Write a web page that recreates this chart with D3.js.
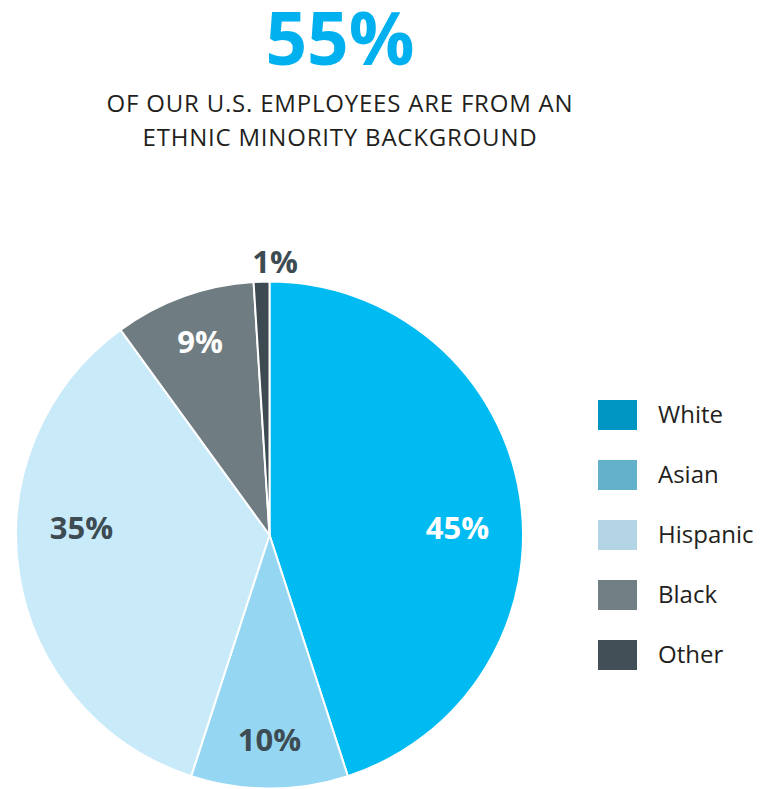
<!DOCTYPE html>
<html>
<head>
<meta charset="utf-8">
<script src="https://cdn.jsdelivr.net/npm/d3@7"></script>
<style>
  body { margin: 0; background: #fff; }
  svg { display: block; font-family: 'Open Sans', sans-serif; }
</style>
</head>
<body>
<div id="viz"><svg></svg></div>
<script>
const fullWidth = 764;
const fullHeight = 789;

// data
const categories = ['White', 'Asian', 'Hispanic', 'Black', 'Other'];
const values = [45, 10, 35, 9, 1];
const labels = ['45%', '10%', '35%', '9%', '1%'];
const headline = '55%';
const subtitle = ['OF OUR U.S. EMPLOYEES ARE FROM AN', 'ETHNIC MINORITY BACKGROUND'];

const sliceColors = ['#00bbf2', '#95d7f3', '#c9eaf9', '#6f7d83', '#3d4a52'];
const legendColors = ['#0096c4', '#64b1cc', '#b2d4e4', '#717f85', '#434f57'];
const labelColors = ['#ffffff', '#3d4b53', '#3d4b53', '#ffffff', '#3d4b53'];

const cx = 269.5, cy = 535, radius = 253.5;

const svg = d3.select('#viz svg')
  .attr('width', fullWidth)
  .attr('height', fullHeight);

// title
svg.append('text')
  .attr('x', 340)
  .attr('y', 65)
  .attr('text-anchor', 'middle')
  .attr('font-size', 73)
  .attr('font-weight', 700)
  .attr('fill', '#00b0ef')
  .text(headline);

svg.selectAll('.sub')
  .data(subtitle)
  .enter().append('text')
  .attr('class', 'sub')
  .attr('x', 340)
  .attr('y', (d, i) => 112 + i * 34)
  .attr('text-anchor', 'middle')
  .attr('font-size', 24)
  .attr('letter-spacing', 0.8)
  .attr('fill', '#231f20')
  .text(d => d);

// pie
const pieData = d3.pie().sort(null).value(d => d.value)(
  categories.map((c, i) => ({ name: c, value: values[i], label: labels[i], i }))
);

const arc = d3.arc().innerRadius(0).outerRadius(radius);
const labelArc = d3.arc().innerRadius(205).outerRadius(205);
const outerR = 274;

const g = svg.append('g')
  .attr('transform', `translate(${cx},${cy})`);

g.selectAll('path')
  .data(pieData)
  .enter().append('path')
  .attr('fill', d => sliceColors[d.data.i])
  .attr('stroke', 'white')
  .attr('stroke-width', 2)
  .attr('d', arc);

const total = d3.sum(values);
const isTiny = d => d.data.value / total < 0.03;

function labelPos(d) {
  if (isTiny(d)) {
    // small slice: label sits outside, starting at the slice's leading edge
    return [outerR * Math.sin(d.startAngle), -outerR * Math.cos(d.startAngle)];
  }
  if (d.data.value / total > 0.3) {
    // big side slices: label sits level with the centre
    const c = labelArc.centroid(d);
    return [Math.sign(c[0]) * 188, -7];
  }
  return labelArc.centroid(d);
}

g.selectAll('.lbl')
  .data(pieData)
  .enter().append('text')
  .attr('class', 'lbl')
  .attr('transform', d => `translate(${labelPos(d)})`)
  .attr('text-anchor', d => isTiny(d) ? 'start' : 'middle')
  .attr('dy', '0.36em')
  .attr('font-size', 31)
  .attr('font-weight', 700)
  .attr('fill', d => labelColors[d.data.i])
  .text(d => d.data.label);

// legend
const y = d3.scalePoint()
  .domain(categories)
  .range([415, 655]);

const legend = svg.append('g');

legend.selectAll('rect')
  .data(categories)
  .enter().append('rect')
  .attr('x', 598)
  .attr('y', d => y(d) - 15)
  .attr('width', 39)
  .attr('height', 30)
  .attr('fill', (d, i) => legendColors[i]);

legend.selectAll('text')
  .data(categories)
  .enter().append('text')
  .attr('x', 658)
  .attr('y', d => y(d))
  .attr('dy', '0.35em')
  .attr('font-size', 24)
  .attr('fill', '#231f20')
  .text(d => d);
</script>
</body>
</html>
